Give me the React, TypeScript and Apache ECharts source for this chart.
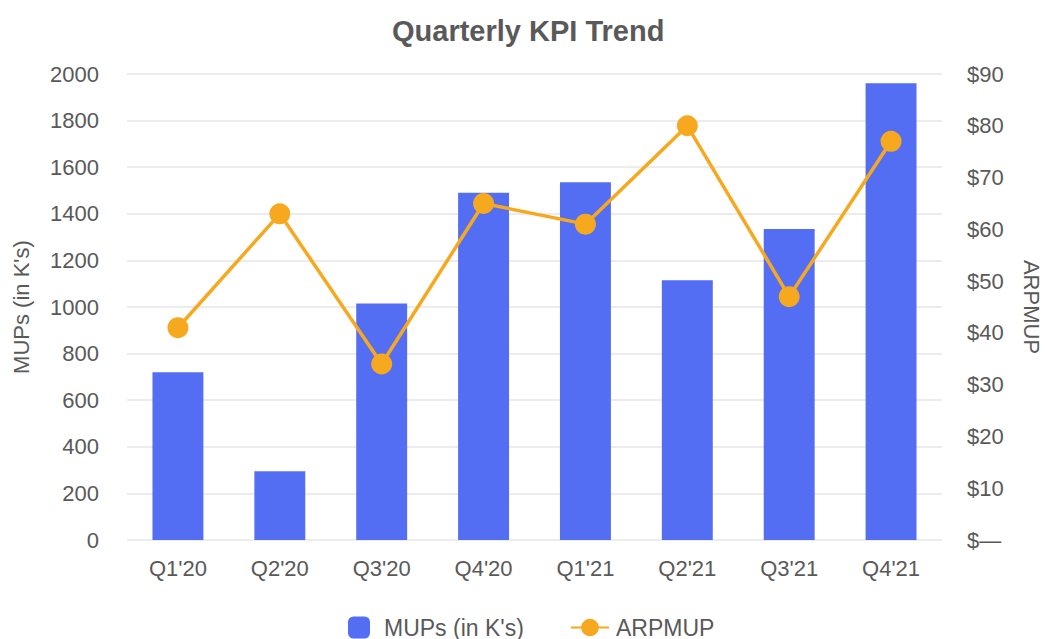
import React, { useEffect, useRef } from "react";
import * as echarts from "echarts";

const categories = ["Q1'20", "Q2'20", "Q3'20", "Q4'20", "Q1'21", "Q2'21", "Q3'21", "Q4'21"];
const mups = [720, 295, 1015, 1490, 1535, 1115, 1335, 1960];
const arpmup = [41, 63, 34, 65, 61, 80, 47, 77];

const FONT = "'Liberation Sans', Arial, sans-serif";
const TEXT = "#595959";
const BLUE = "#546EF3";
const ORANGE = "#F6A91F";

export default function App() {
  const ref = useRef<HTMLDivElement>(null);
  useEffect(() => {
    if (!ref.current) return;
    const chart = echarts.init(ref.current, null, { renderer: "svg" });
    chart.setOption({
      animation: false,
      backgroundColor: "#ffffff",
      textStyle: { fontFamily: FONT, color: TEXT },
      title: {
        text: "Quarterly KPI Trend",
        left: 387,
        top: 11,
        textStyle: { fontFamily: FONT, fontSize: 29, fontWeight: "bold", color: TEXT },
      },
      legend: [
        {
          data: ["MUPs (in K's)"],
          left: 348,
          top: 616,
          padding: 0,
          itemWidth: 22,
          itemHeight: 22,
          itemGap: 10,
          textStyle: { fontFamily: FONT, fontSize: 23, color: TEXT, padding: [0, 0, 0, 9] },
        },
        {
          data: ["ARPMUP"],
          left: 570,
          top: 616,
          padding: 0,
          itemWidth: 38,
          itemHeight: 22,
          textStyle: { fontFamily: FONT, fontSize: 23, color: TEXT, padding: [0, 0, 0, 2] },
        },
      ],
      grid: {
        left: 127,
        right: 103,
        top: 74,
        bottom: 99,
        containLabel: false,
        outerBoundsMode: "none",
      },
      xAxis: {
        type: "category",
        data: categories,
        axisLine: { show: false },
        axisTick: { show: false },
        axisLabel: { fontFamily: FONT, fontSize: 22, color: TEXT, margin: 17 },
      },
      yAxis: [
        {
          type: "value",
          min: 0,
          max: 2000,
          interval: 200,
          name: "MUPs (in K's)",
          nameLocation: "middle",
          nameGap: 95,
          nameTextStyle: { fontFamily: FONT, fontSize: 22, color: TEXT },
          axisLine: { show: false },
          axisTick: { show: false },
          axisLabel: {
            fontFamily: FONT,
            fontSize: 22,
            color: TEXT,
            margin: 28,
            formatter: (v: number) => String(v),
          },
          splitLine: { lineStyle: { color: "#e6e6e6", width: 1.5 } },
        },
        {
          type: "value",
          min: 0,
          max: 90,
          interval: 10,
          name: "ARPMUP",
          nameLocation: "middle",
          nameGap: 78,
          nameRotate: -90,
          nameTextStyle: { fontFamily: FONT, fontSize: 22, color: TEXT },
          axisLine: { show: false },
          axisTick: { show: false },
          axisLabel: {
            fontFamily: FONT,
            fontSize: 22,
            color: TEXT,
            margin: 25,
            formatter: (v: number) => (v === 0 ? "$\u2014" : "$" + v),
          },
          splitLine: { show: false },
        },
      ],
      series: [
        {
          name: "MUPs (in K's)",
          type: "bar",
          data: mups,
          barWidth: "50%",
          itemStyle: { color: BLUE },
          yAxisIndex: 0,
        },
        {
          name: "ARPMUP",
          type: "line",
          data: arpmup,
          yAxisIndex: 1,
          symbol: "circle",
          symbolSize: 21,
          lineStyle: { color: ORANGE, width: 3.5 },
          itemStyle: { color: ORANGE },
        },
      ],
    });
    return () => chart.dispose();
  }, []);
  return (
    <div
      ref={ref}
      style={{ position: "fixed", left: 0, top: 0, width: 1045, height: 639 }}
    />
  );
}
